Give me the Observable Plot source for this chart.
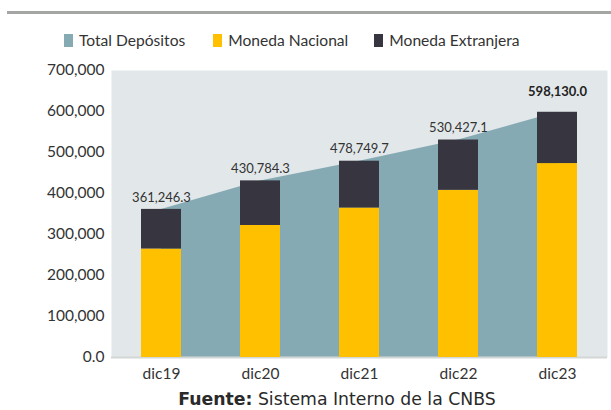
<!DOCTYPE html>
<html><head><meta charset="utf-8">
<script src="https://cdn.jsdelivr.net/npm/d3@7"></script>
<script src="https://cdn.jsdelivr.net/npm/@observablehq/plot@0.6"></script>
<style>
body{margin:0;background:#fff;font-family:Lato,"Open Sans",sans-serif;color:#333;}
#wrap{position:relative;width:611px;height:410px;overflow:hidden;}
#rule{position:absolute;left:7px;top:11px;width:604px;height:3px;background:#a3a6a2;}
#legend{position:absolute;top:31px;left:64px;display:flex;align-items:center;font-size:15.6px;white-space:nowrap;}
#legend span.sw{display:inline-block;width:9px;height:13px;margin-right:6px;}
#legend .it{display:flex;align-items:center;}
#chart{position:absolute;left:0;top:60px;}
#foot{position:absolute;top:389px;left:0;width:674px;text-align:center;font-family:"DejaVu Sans",sans-serif;font-size:17.3px;color:#2a2a2a;white-space:nowrap;}
</style></head>
<body><div id="wrap">
<div id="rule"></div>
<div id="legend"></div>
<div id="chart"></div>
<div id="foot"><b>Fuente:</b> Sistema Interno de la CNBS</div>
</div>
<script>
const periods = ["dic19","dic20","dic21","dic22","dic23"];
const totalDepositos = [361246.3, 430784.3, 478749.7, 530427.1, 598130.0];
const monedaNacional = [264500, 322000, 364600, 407800, 473000];
const monedaExtranjera = totalDepositos.map((t,i)=> t - monedaNacional[i]);
const yTicks = [0,100000,200000,300000,400000,500000,600000,700000];
const seriesNames = ["Total Depósitos","Moneda Nacional","Moneda Extranjera"];
const colors = ["#86aab3","#ffc000","#37353f"];

const legend = document.getElementById("legend");
const gaps = [0, 28, 26];
seriesNames.forEach((n,i)=>{
  const it = document.createElement("div"); it.className="it";
  it.style.marginLeft = gaps[i]+"px";
  it.innerHTML = `<span class="sw" style="background:${colors[i]}"></span>${n}`;
  legend.appendChild(it);
});

const total = periods.map((p,i)=>({p, v: totalDepositos[i]}));
const stacked = [];
periods.forEach((p,i)=>{
  stacked.push({p, s: seriesNames[1], v: monedaNacional[i]});
  stacked.push({p, s: seriesNames[2], v: monedaExtranjera[i]});
});
const fmt = d3.format(",.1f");

const plot = Plot.plot({
  width: 611, height: 330,
  marginLeft: 111, marginRight: 4, marginTop: 10, marginBottom: 33,
  style: {fontFamily: "Lato, 'Open Sans', sans-serif", fontSize: "15.5px", color: "#333"},
  x: {type: "band", domain: periods, paddingInner: 0.6, paddingOuter: 0.3, label: null, tickSize: 0, tickPadding: 10},
  y: {domain: [0, 700000], ticks: yTicks, label: null, tickSize: 0, tickPadding: 7,
      tickFormat: d => d === 0 ? "0.0" : d3.format(",")(d)},
  color: {domain: seriesNames, range: colors},
  marks: [
    Plot.frame({fill: "#e2e8e9", stroke: null}),
    Plot.areaY(total, {x: "p", y: "v", fill: colors[0]}),
    Plot.ruleY([0], {stroke: "#d3d6d6", strokeWidth: 2}),
    Plot.barY(stacked, {x: "p", y: "v", fill: "s", order: seriesNames}),
    Plot.text(total.slice(0,4), {x: "p", y: "v", text: d => fmt(d.v), dy: -12, fontSize: 13, fill: "#333"}),
    Plot.text(total.slice(4), {x: "p", y: "v", text: d => fmt(d.v), dy: -20, fontSize: 13, fontWeight: "bold", fill: "#222"})
  ]
});
document.getElementById("chart").appendChild(plot);
</script>
</body></html>
